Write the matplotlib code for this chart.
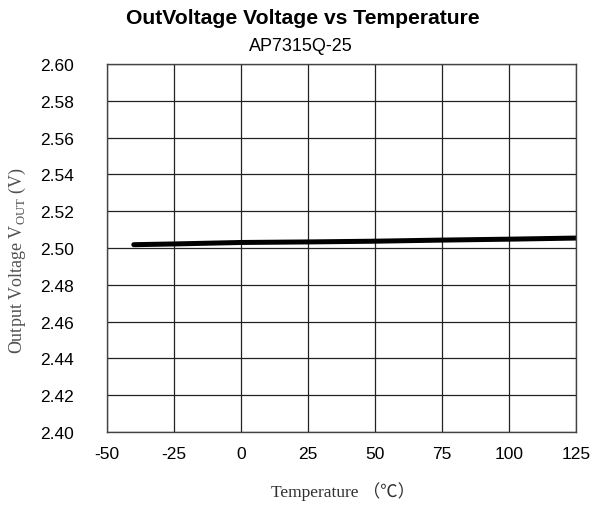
import numpy as np
from matplotlib import pyplot as plt

plt.rcParams['mathtext.fontset'] = 'custom'
plt.rcParams['mathtext.rm'] = 'Liberation Serif'
plt.rcParams['axes.unicode_minus'] = False

# Data
temperature = [-40, -25, 0, 25, 50, 75, 100, 125]
v_out = [2.5018, 2.5022, 2.5030, 2.5033, 2.5037, 2.5043, 2.5048, 2.5054]

x_ticks = [-50, -25, 0, 25, 50, 75, 100, 125]
y_ticks = [2.40, 2.42, 2.44, 2.46, 2.48, 2.50, 2.52, 2.54, 2.56, 2.58, 2.60]

fig = plt.figure(figsize=(5.92, 5.06), dpi=100)
ax = fig.add_axes([0.1807, 0.1443, 0.973 - 0.1807, 0.8715 - 0.1443])

ax.plot(temperature, v_out, color='black', lw=3.6, solid_capstyle='round')

ax.set_xlim(-50, 125)
ax.set_ylim(2.40, 2.60)
ax.set_xticks(x_ticks)
ax.set_yticks(y_ticks)
ax.set_yticklabels([f"{v:.2f}" for v in y_ticks])
ax.grid(True, color='#222222', lw=0.9)
ax.set_axisbelow(True)
for sp in ax.spines.values():
    sp.set_color('#444444')
    sp.set_linewidth(1.0)
ax.tick_params(length=0, labelsize=12.5, colors='black')
ax.tick_params(axis='y', pad=24)
ax.tick_params(axis='x', pad=10)
for lbl in ax.get_xticklabels() + ax.get_yticklabels():
    lbl.set_family('Liberation Sans')

fig.text(0.512, 0.963, "OutVoltage Voltage vs Temperature", ha='center', va='center',
         fontsize=15.2, fontweight='bold', family='Liberation Sans')
fig.text(0.508, 0.909, "AP7315Q-25", ha='center', va='center',
         fontsize=13, family='Liberation Sans')

fig.text(0.03, 0.484, r"Output Voltage V$_{\mathrm{OUT}}$ (V)", rotation=90,
         ha='center', va='center', fontsize=13, color='#505050',
         family='Liberation Serif')
fig.text(0.58, 0.028, "Temperature （℃）", ha='center', va='center',
         fontsize=12.5, color='#303030', family=['Liberation Serif', 'Noto Sans CJK SC'])

fig.savefig('out.png', dpi=100)
